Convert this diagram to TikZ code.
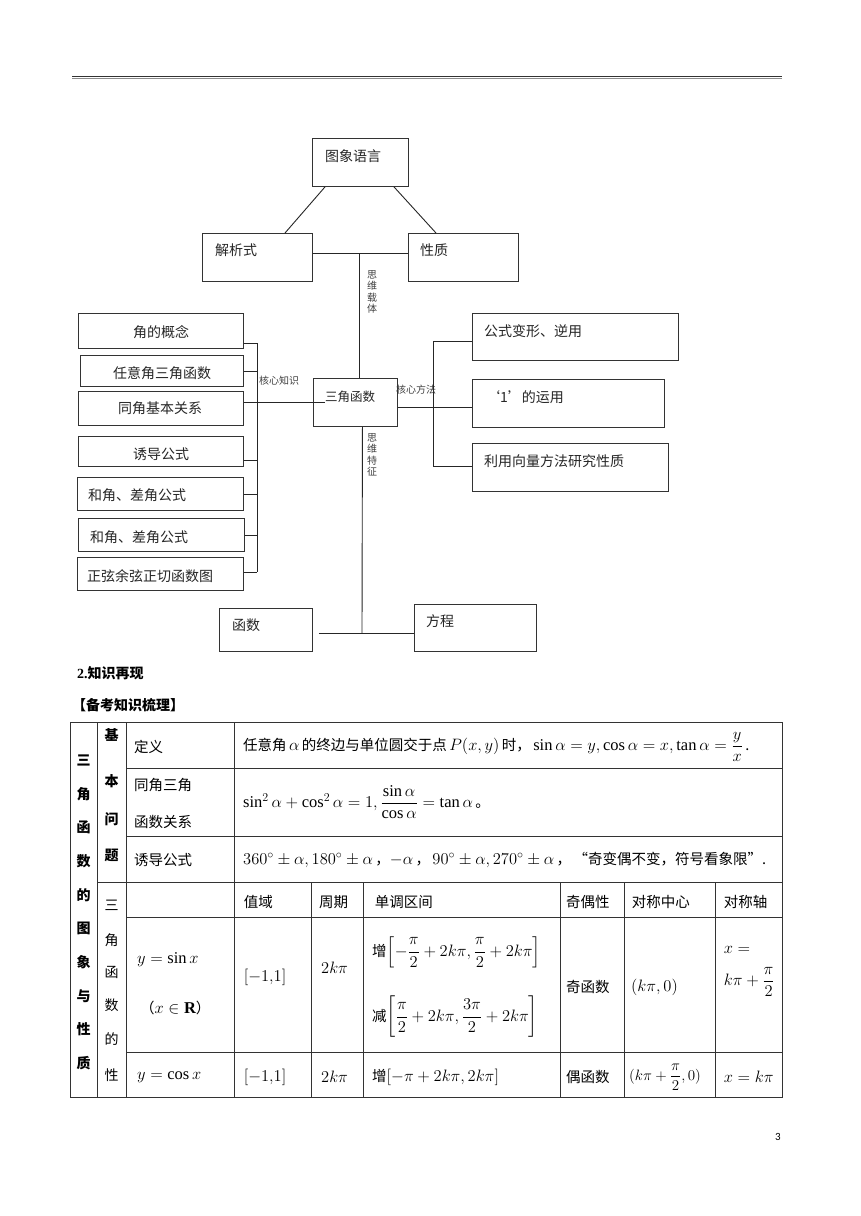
\RequirePackage{fix-cm}
\documentclass[tikz,border=0pt]{standalone}
\usepackage{amsmath}
\usepackage{fontspec}
\setmainfont{Noto Sans CJK SC}
\setmathrm{Liberation Serif}
\setboldmathrm{Liberation Serif}
\newfontfamily\serifb{Liberation Serif}
\newfontfamily\carl{Carlito}
\DeclareMathSizes{14.5}{16.5}{12}{9}
\DeclareMathSizes{13.5}{15}{11}{8.5}
\usetikzlibrary{calc}
\tikzset{
 box/.style={draw=black!80, line width=0.9pt, anchor=north west, inner sep=0pt},
 conn/.style={draw=black!85, line width=0.9pt},
 btxt/.style={font=\fontsize{14}{16}\selectfont, text=black!85, inner sep=0pt},
 small/.style={font=\fontsize{10}{11.5}\selectfont, text=black!75, inner sep=0pt},
 tline/.style={draw=black!80, line width=0.8pt},
 ttxt/.style={font=\fontsize{14.5}{17}\selectfont, inner sep=0pt, anchor=west},
 tc/.style={font=\fontsize{14.5}{17}\selectfont, inner sep=0pt},
}
\begin{document}
\begin{tikzpicture}[x=1pt,y=-1pt]
\useasboundingbox[fill=white] (0,0) rectangle (860,1216);
% header rule
\draw[black!80, line width=1.4pt] (72,76.6) -- (782,76.6);
\draw[black!45, line width=0.8pt] (72,77.9) -- (782,77.9);
% boxes
\node[box, minimum width=96pt, minimum height=48pt] (tx) at (312,138) {};
\node[box, minimum width=110pt, minimum height=48pt] (jx) at (202,233) {};
\node[box, minimum width=110pt, minimum height=48pt] (xz) at (408,233) {};
\node[box, minimum width=84pt, minimum height=48pt] (sj) at (313,378) {};
\node[box, minimum width=206pt, minimum height=47pt] (gs) at (472,313) {};
\node[box, minimum width=192pt, minimum height=48pt] (yy) at (472,379) {};
\node[box, minimum width=196pt, minimum height=48pt] (xl) at (472,443) {};
\node[box, minimum width=165pt, minimum height=35pt] (b1) at (78,313) {};
\node[box, minimum width=163pt, minimum height=31pt] (b2) at (80,355) {};
\node[box, minimum width=165pt, minimum height=34pt] (b3) at (78,391) {};
\node[box, minimum width=165pt, minimum height=30pt] (b4) at (78,436) {};
\node[box, minimum width=166pt, minimum height=33pt] (b5) at (77,477) {};
\node[box, minimum width=166pt, minimum height=33pt] (b6) at (78,518) {};
\node[box, minimum width=166pt, minimum height=33pt] (b7) at (77,557) {};
\node[box, minimum width=93pt, minimum height=43pt] (hs) at (219,608) {};
\node[box, minimum width=122pt, minimum height=47pt] (fc) at (414,604) {};
% box texts
\node[btxt, anchor=west] (ttx) at (325,156) {图象语言};
\node[btxt, anchor=west] (tjx) at (215,250) {解析式};
\node[btxt, anchor=west] (txz) at (420,250) {性质};
\node[btxt, anchor=west, font=\fontsize{12.5}{14}\selectfont] (tsj) at (325,397) {三角函数};
\node[btxt, anchor=west] (tgs) at (484,331) {公式变形、逆用};
\node[btxt, anchor=west] (tyy) at (486,397) {‘1’的运用};
\node[btxt, anchor=west] (txl) at (484,461) {利用向量方法研究性质};
\node[btxt] (tb1) at (161,332) {角的概念};
\node[btxt] (tb2) at (162,373) {任意角三角函数};
\node[btxt] (tb3) at (160,408) {同角基本关系};
\node[btxt] (tb4) at (161,454) {诱导公式};
\node[btxt, anchor=west] (tb5) at (88,495) {和角、差角公式};
\node[btxt, anchor=west] (tb6) at (90,537) {和角、差角公式};
\node[btxt, anchor=west] (tb7) at (87,576) {正弦余弦正切函数图};
\node[btxt, anchor=west] (ths) at (232,625) {函数};
\node[btxt, anchor=west] (tfc) at (426,621) {方程};
% small labels
\node[small, align=center] (l1) at (372,292) {思\\维\\载\\体};
\node[small, anchor=west] (l2) at (259,381) {核心知识};
\node[small, anchor=west] (l3) at (396,390) {核心方法};
\node[small, align=center] (l4) at (372,455) {思\\维\\特\\征};
% connectors
\draw[conn] ([xshift=13pt]tx.south west) -- ([xshift=83pt]jx.north west);
\draw[conn] ([xshift=82pt]tx.south west) -- ([xshift=28pt]xz.north west);
\coordinate (j1) at (359,253);
\draw[conn] (jx.east |- j1) -- (xz.west |- j1);
\draw[conn] (j1) -- (j1 |- sj.north);
\coordinate (lt) at (257,343);
\coordinate (lb) at (257,572);
\draw[conn] (lt) -- (lb);
\draw[conn] (b1.east |- lt) -- (lt);
\draw[conn] (b2.east) -- (b2.east -| lt);
\draw[conn] ([yshift=-9pt]b4.east) -- ([yshift=-9pt]b4.east -| lt);
\draw[conn] (b5.east) -- (b5.east -| lt);
\draw[conn] (b6.east) -- (b6.east -| lt);
\draw[conn] (b7.east |- lb) -- (lb);
\draw[conn] (b3.east |- sj.center) -- ([xshift=12pt]sj.west);
\coordinate (rt) at (433,341);
\coordinate (rb) at (433,466);
\draw[conn] (rt) -- (rb);
\draw[conn] (rt) -- (gs.west |- rt);
\draw[conn] (rb) -- (xl.west |- rb);
\draw[conn] ([yshift=-5pt]sj.east) -- ([yshift=-5pt]sj.east -| yy.west);
\coordinate (j2) at (362,633);
\draw[conn] ([xshift=7pt]sj.south) -- (j2);
\draw[conn] ([xshift=6pt]hs.east |- j2) -- (fc.west |- j2);
% headings
\node[anchor=west, inner sep=0pt, font=\fontsize{14}{16}\selectfont\bfseries] (sec) at (77,673) {{\serifb 2.}知识再现};
\node[anchor=west, inner sep=0pt, font=\fontsize{14}{16}\selectfont\bfseries] (sub) at (72,705) {【备考知识梳理】};
% table grid
\draw[tline] (70,722) rectangle (782,1097);
\draw[tline] (97,722) -- (97,1097);
\draw[tline] (126,722) -- (126,1097);
\draw[tline] (234,722) -- (234,1097);
\foreach \yy in {768,836} \draw[tline] (126,\yy) -- (782,\yy);
\draw[tline] (97,882) -- (782,882);
\foreach \yy in {917,1052} \draw[tline] (126,\yy) -- (782,\yy);
\foreach \xx in {311.5,363,560,624,715} \draw[tline] (\xx,882) -- (\xx,1097);
% column 1
\foreach \ch [count=\i from 0] in {三,角,函,数,的,图,象,与,性,质}
  \node[tc, font=\fontsize{14}{16}\selectfont\bfseries] (ca\i) at (83.5,{760+33.7*\i}) {\ch};
% column 2
\foreach \ch/\yv [count=\i] in {基/735,本/781,问/819,题/855}
  \node[tc, font=\fontsize{14}{16}\selectfont\bfseries] (cb\i) at (111.5,\yv) {\ch};
\foreach \ch/\yv [count=\i] in {三/905,角/940,函/972,数/1005,的/1039,性/1075}
  \node[tc, font=\fontsize{14}{16}\selectfont] (cc\i) at (111.5,\yv) {\ch};
% upper rows
\node[ttxt] (r1a) at (134,747) {定义};
\node[ttxt] (r1b) at (243,747) {任意角\,$\alpha$\,的终边与单位圆交于点\,$P(x,y)$\,时，\,$\sin\alpha=y,\cos\alpha=x,\tan\alpha=\dfrac{y}{x}$\,.};
\node[ttxt] (r2a) at (134,785) {同角三角};
\node[ttxt] (r2b) at (134,822) {函数关系};
\node[ttxt] (r2c) at (243,802) {$\sin^2\alpha+\cos^2\alpha=1,\dfrac{\sin\alpha}{\cos\alpha}=\tan\alpha$\,。};
\node[ttxt] (r3a) at (134,860) {诱导公式};
\node[ttxt] (r3b) at (243,860) {$360^\circ\pm\alpha,180^\circ\pm\alpha$\,，$-\alpha$\,，\,$90^\circ\pm\alpha,270^\circ\pm\alpha$\,，\,“奇变偶不变，符号看象限”.};
% lower header
\node[ttxt] (h1) at (243.6,902) {值域};
\node[ttxt] (h2) at (319,902) {周期};
\node[ttxt] (h3) at (374.6,902) {单调区间};
\node[ttxt] (h4) at (566,902) {奇偶性};
\node[ttxt] (h5) at (631.6,902) {对称中心};
\node[ttxt] (h6) at (723.7,902) {对称轴};
% sin row
\node[ttxt] (s1) at (137,960) {$y=\sin x$};
\node[ttxt] (s2) at (140,1008) {（$x\in\mathbf{R}$）};
\node[ttxt] (s3) at (243.6,977) {$\left[-1{,}1\right]$};
\node[ttxt] (s4) at (321,968) {$2k\pi$};
\node[ttxt] (s5) at (372,952) {增$\left[-\dfrac{\pi}{2}+2k\pi,\dfrac{\pi}{2}+2k\pi\right]$};
\node[ttxt] (s6) at (372,1017) {减$\left[\dfrac{\pi}{2}+2k\pi,\dfrac{3\pi}{2}+2k\pi\right]$};
\node[ttxt] (s7) at (566,987) {奇函数};
\node[ttxt] (s8) at (631,987) {$(k\pi,0)$};
\node[ttxt] (s9) at (723.7,950) {$x=$};
\node[ttxt] (s10) at (723.7,982) {$k\pi+\dfrac{\pi}{2}$};
% cos row
\node[ttxt] (c1) at (137,1077) {$y=\cos x$};
\node[ttxt] (c2) at (243.6,1077) {$\left[-1{,}1\right]$};
\node[ttxt] (c3) at (321,1077) {$2k\pi$};
\node[ttxt] (c4) at (372,1077) {增$\left[-\pi+2k\pi,2k\pi\right]$};
\node[ttxt] (c5) at (566,1077) {偶函数};
\node[ttxt, font=\fontsize{13.5}{16}\selectfont] (c6) at (629,1077) {$(k\pi+\dfrac{\pi}{2},0)$};
\node[ttxt] (c7) at (723.7,1077) {$x=k\pi$};
% page number
\node[inner sep=0pt, font=\carl\fontsize{11}{13}\selectfont] (pg) at (778,1137) {3};
\end{tikzpicture}
\end{document}
